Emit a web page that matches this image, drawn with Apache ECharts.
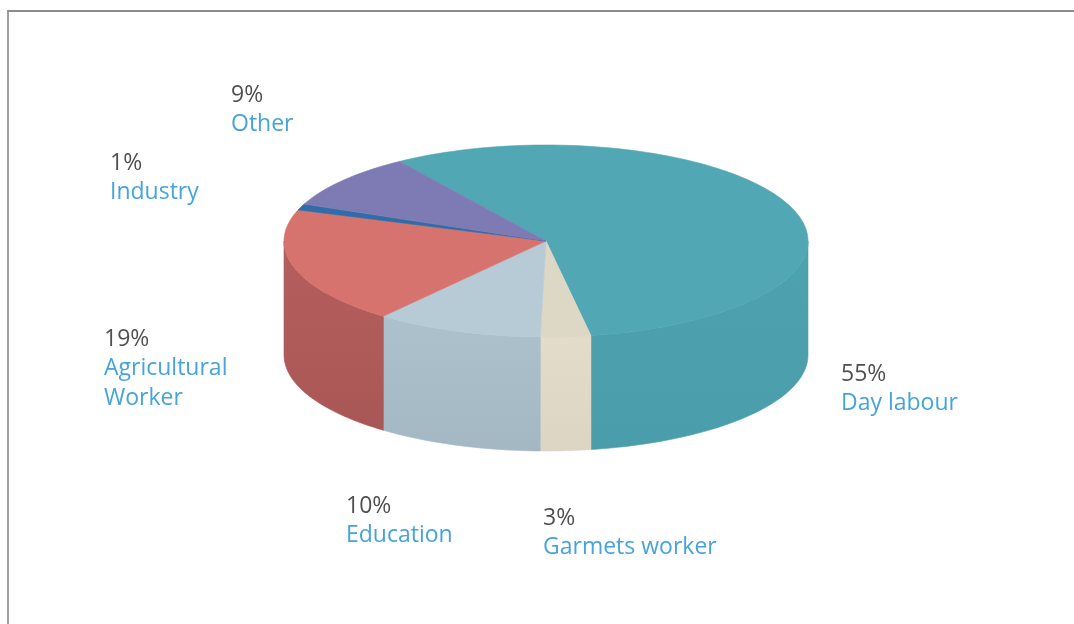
<!DOCTYPE html>
<html>
<head>
<meta charset="utf-8">
<script src="https://cdn.jsdelivr.net/npm/echarts@6/dist/echarts.min.js"></script>
<style>
  html, body { margin: 0; padding: 0; background: #ffffff; }
  #frame { position: absolute; left: 7px; top: 10px; width: 1067px; height: 614px;
           border-top: 2px solid #8c8c8c; border-left: 2px solid #a0a0a0; box-sizing: border-box; }
  #chart { position: absolute; left: 0; top: 0; width: 1074px; height: 624px; }
</style>
</head>
<body>
<div id="frame"></div>
<div id="chart"></div>
<script>
// Occupation shares (percent), drawn clockwise from the back-left edge
const categories = ['Day labour', 'Garmets worker', 'Education', 'Agricultural\nWorker', 'Industry', 'Other'];
const shares = [55, 3, 10, 19, 1, 9];

// Slice colours: top face, side wall (upper) and side wall (lower)
const topColors   = ['#51a7b3', '#ddd7c5', '#b6cbd5', '#d7736e', '#2f6ca8', '#7e7bb4'];
const sideColors  = ['#4ea3b0', '#e3dccb', '#adc1cc', '#b55f5e', '#2a609a', '#6f6ca3'];
const sideColors2 = ['#4a9dab', '#ddd5c3', '#a4b8c4', '#a95756', '#255890', '#66639a'];

// Where each label block sits: [left x, centre y of the percent line]
const labelAnchors = [[841, 374], [543, 518], [346, 506], [104, 339], [110, 163], [231, 95]];

// Pie body geometry (elliptical cylinder seen from above)
const pie = { cx: 546, cy: 241, rx: 262, ry: 96, depth: 114, startDeg: 236 };

const total = shares.reduce((a, b) => a + b, 0);
const cumStart = [];
shares.reduce((acc, v, i) => { cumStart[i] = acc; return acc + v; }, 0);

const rad = d => d * Math.PI / 180;
function topPt(t) { return [pie.cx + pie.rx * Math.cos(rad(t)), pie.cy + pie.ry * Math.sin(rad(t))]; }
function arcPts(a0, a1, dy) {
  const n = Math.max(2, Math.ceil(Math.abs(a1 - a0) / 1.5));
  const pts = [];
  for (let k = 0; k <= n; k++) {
    const p = topPt(a0 + (a1 - a0) * k / n);
    pts.push([p[0], p[1] + dy]);
  }
  return pts;
}

function renderItem(params, api) {
  const i = params.dataIndex;
  const v = api.value(0);
  const a0 = pie.startDeg + cumStart[i] / total * 360;
  const a1 = a0 + v / total * 360;
  const children = [];

  // Front-facing side wall: parts of the arc whose angle lies in [0, 180] (mod 360)
  for (let k = 0; k <= 2; k++) {
    const lo = Math.max(a0, 360 * k), hi = Math.min(a1, 360 * k + 180);
    if (hi > lo) {
      const top = arcPts(lo, hi, 0);
      const bottom = arcPts(hi, lo, pie.depth);
      children.push({
        type: 'polygon', z2: 1,
        shape: { points: top.concat(bottom) },
        style: {
          fill: new echarts.graphic.LinearGradient(0, 0, 0, 1, [
            { offset: 0, color: sideColors[i] },
            { offset: 1, color: sideColors2[i] }
          ]),
          stroke: sideColors2[i], lineWidth: 0.6
        }
      });
    }
  }

  // Top face wedge
  const wedge = [[pie.cx, pie.cy]].concat(arcPts(a0, a1, 0));
  children.push({
    type: 'polygon', z2: 10,
    shape: { points: wedge },
    style: { fill: topColors[i], stroke: topColors[i], lineWidth: 0.6 }
  });

  // Label: percentage on top, category name below
  const [lx, ly] = labelAnchors[i];
  children.push({
    type: 'text', z2: 20, x: lx, y: ly,
    style: { text: v + '%', fill: '#505050', font: '23px "Open Sans", Lato, sans-serif',
             align: 'left', verticalAlign: 'middle' }
  });
  children.push({
    type: 'text', z2: 20, x: lx, y: ly + 14,
    style: { text: categories[i], fill: '#46a4dc', font: '500 23px "Open Sans", Lato, sans-serif',
             lineHeight: 30, align: 'left', verticalAlign: 'top' }
  });

  return { type: 'group', children: children };
}

const chart = echarts.init(document.getElementById('chart'), null, { renderer: 'canvas' });
chart.setOption({
  backgroundColor: 'transparent',
  animation: false,
  series: [{
    type: 'custom',
    coordinateSystem: 'none',
    renderItem: renderItem,
    data: shares.map(v => [v])
  }]
});
</script>
</body>
</html>
